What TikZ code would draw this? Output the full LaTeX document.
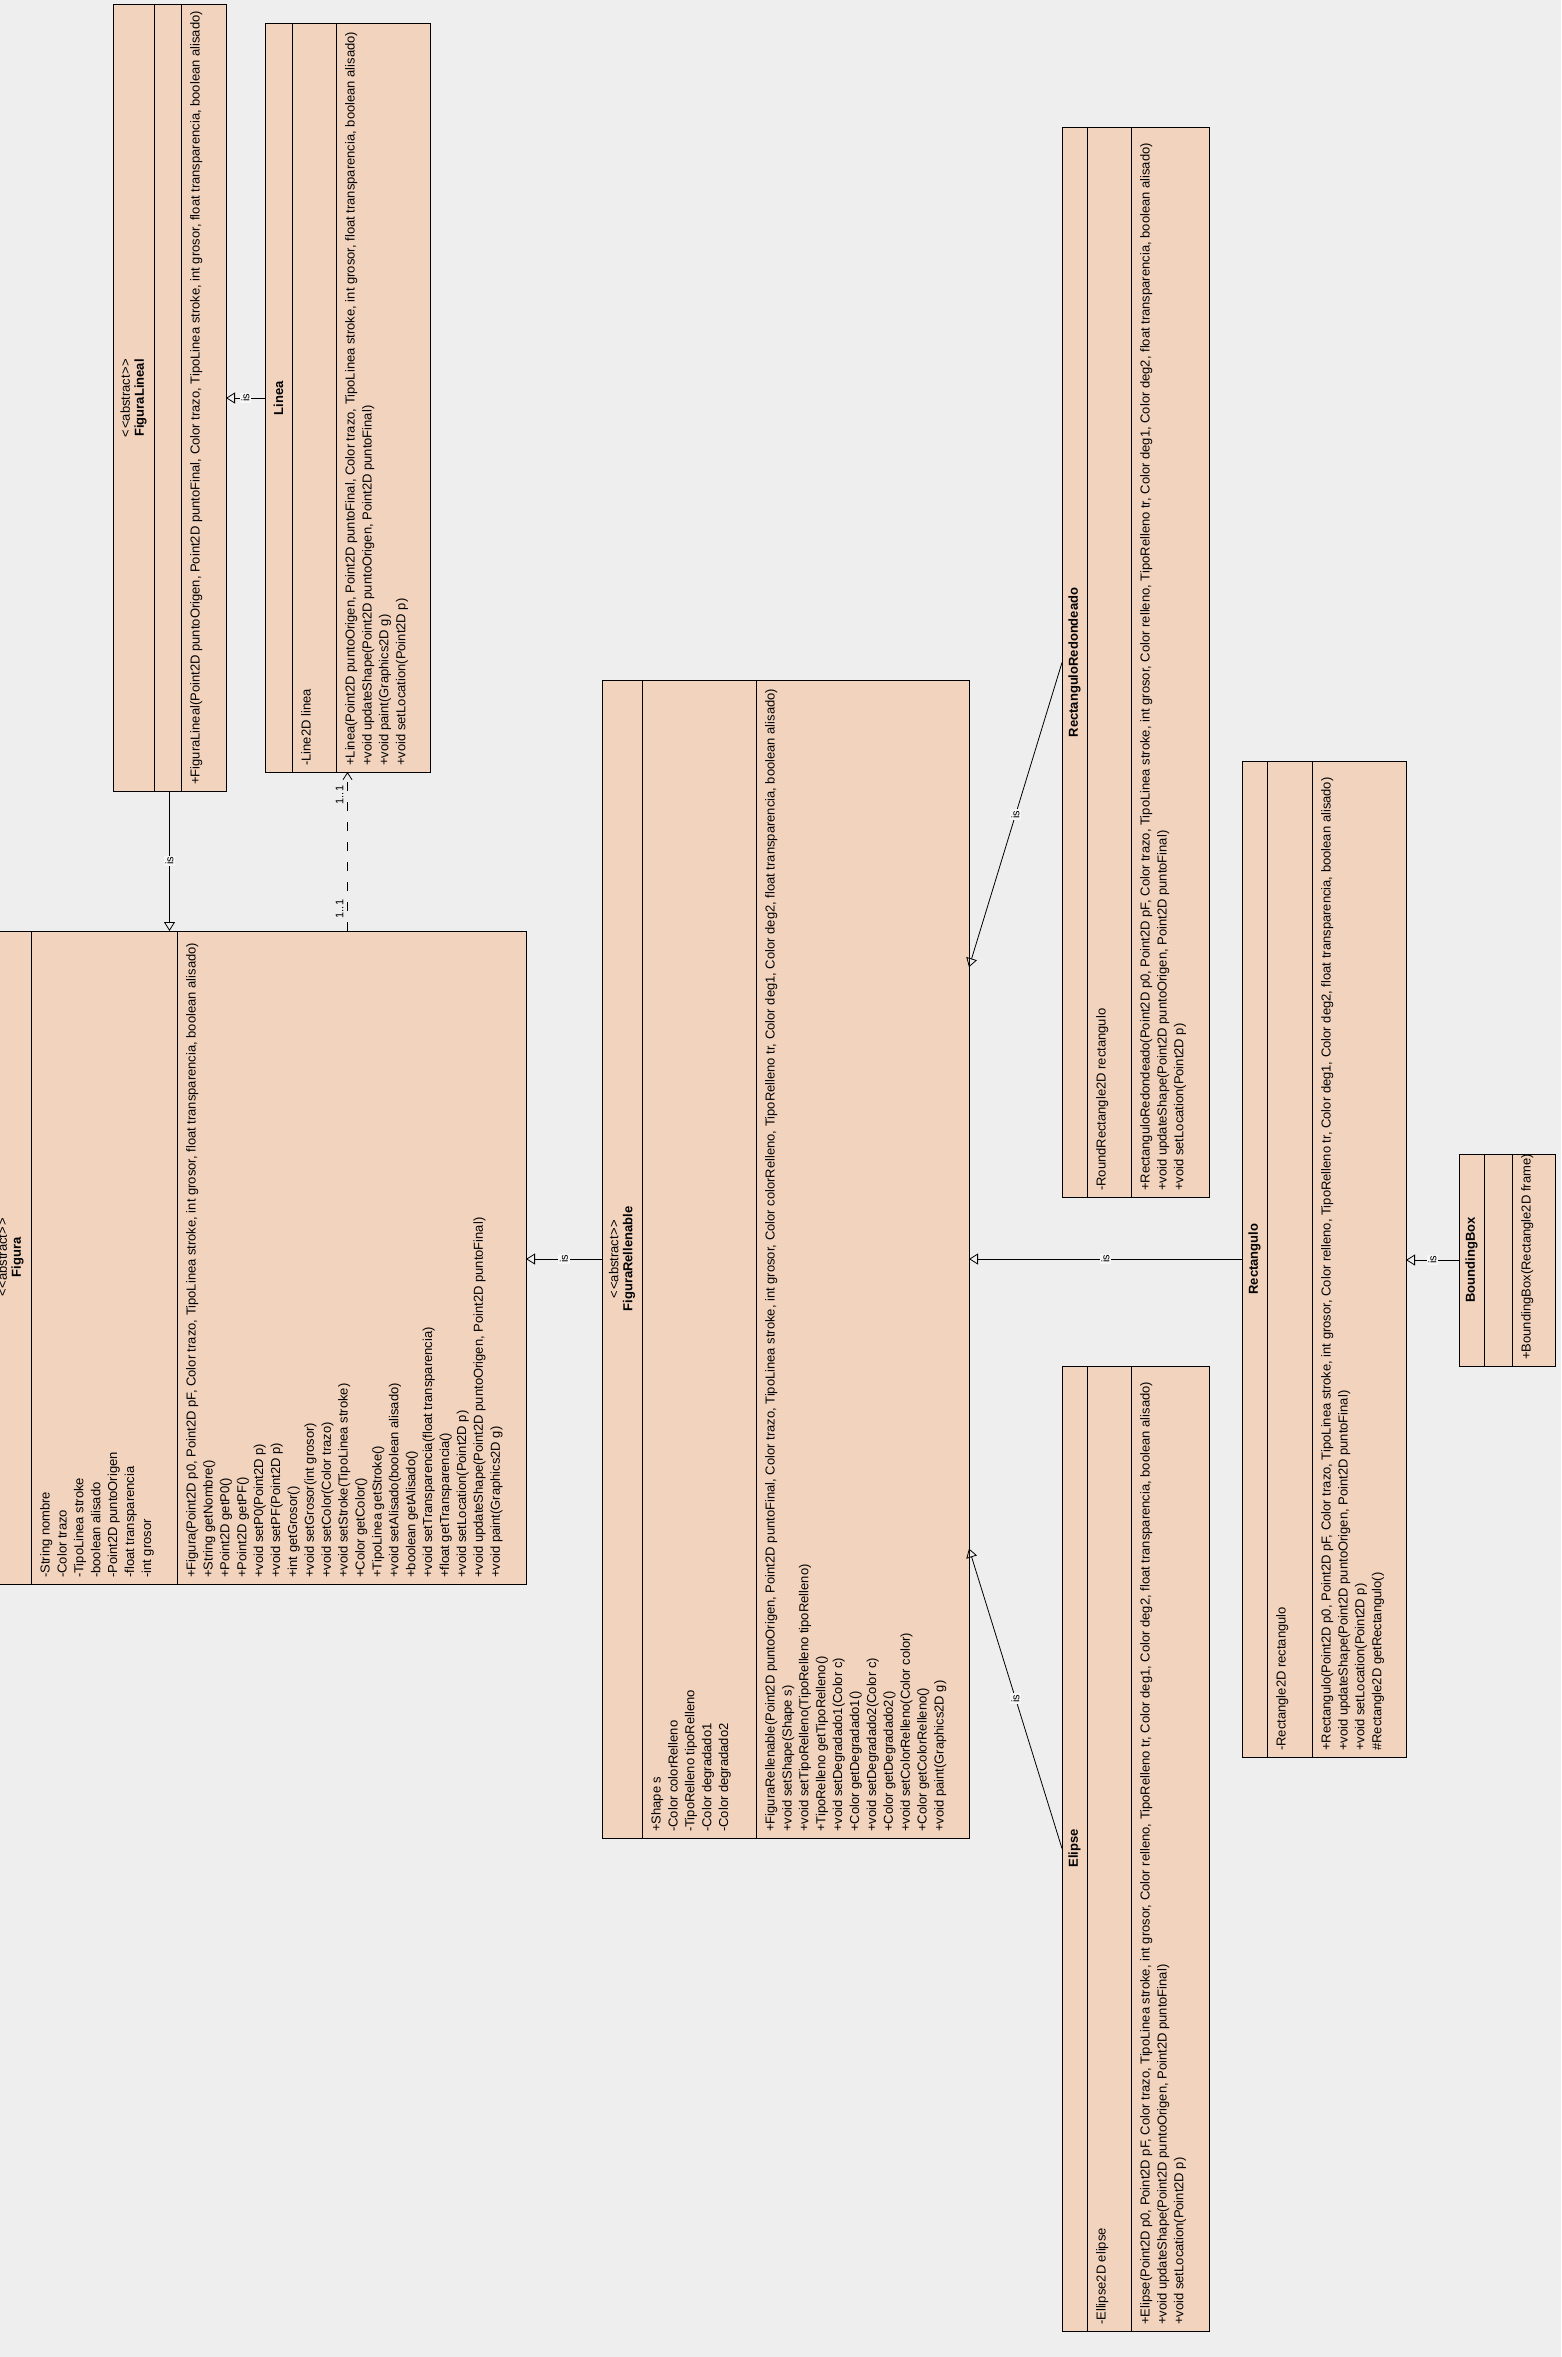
\documentclass[tikz,border=0pt]{standalone}
\usepackage{fontspec}
\setmainfont{Liberation Sans}
\usetikzlibrary{arrows.meta,calc}

\definecolor{canvas}{HTML}{EEEEEE}
\definecolor{classfill}{HTML}{F2D3BD}
\definecolor{tagfill}{HTML}{F7F7F7}

\tikzset{
  classbox/.style={draw=black, fill=classfill, line width=1pt, inner sep=0pt,
    outer sep=0pt, rectangle, anchor=north west},
  divider/.style={draw=black, line width=1pt},
  members/.style={rotate=90, anchor=north west, align=left, inner sep=0pt,
    font=\fontsize{13}{16.9}\selectfont},
  title/.style={rotate=90, align=center, inner sep=0pt,
    font=\fontsize{13}{14}\selectfont},
  inherit/.style={draw=black, line width=0.8pt,
    -{Triangle[open, length=9pt, width=11pt, line width=0.8pt]}},
  depend/.style={draw=black, line width=0.8pt, dash pattern=on 9pt off 11pt,
    -{Straight Barb[length=7pt, width=9pt, line width=0.8pt]}},
  tag/.style={rotate=90, fill=tagfill, inner sep=1.5pt,
    font=\fontsize{11}{12}\selectfont},
  mult/.style={rotate=90, anchor=south, inner sep=0pt,
    font=\fontsize{11}{12}\selectfont},
}

% stereotype text, kept as plain angle brackets
\newcommand{\abstractmark}{<\kern1pt<abstract>\kern1pt>}

% class frame: name, left, top, right, bottom, first divider, second divider
\newcommand{\umlclass}[7]{%
  \node[classbox, minimum width={(#4)-(#2)}, minimum height={(#5)-(#3)}] (#1) at (#2,#3) {};
  \draw[divider] (#6,#3) -- (#6,#5);
  \draw[divider] (#7,#3) -- (#7,#5);
}

\begin{document}
\begin{tikzpicture}[x=1pt, y=-1pt]
\useasboundingbox (0,0) rectangle (1561,2357);
\clip (0,0) rectangle (1561,2357);
\fill[canvas] (0,0) rectangle (1561,2357);

% ---------- FiguraLineal ----------
\umlclass{FiguraLineal}{113}{5}{226}{791}{154}{181}
\node[title] (FiguraLineal-t) at (133.5,398) {\abstractmark\\\textbf{FiguraLineal}};
\node[members] (FiguraLineal-o) at (190,785)
  {+FiguraLineal(Point2D puntoOrigen, Point2D puntoFinal, Color trazo, TipoLinea stroke, int grosor, float transparencia, boolean alisado)};

% ---------- Linea ----------
\umlclass{Linea}{265}{24}{430}{772}{292}{336}
\node[title] (Linea-t) at (278.5,398) {\textbf{Linea}};
\node[members] (Linea-a) at (301,766) {-Line2D linea};
\node[members] (Linea-o) at (345,766)
  {+Linea(Point2D puntoOrigen, Point2D puntoFinal, Color trazo, TipoLinea stroke, int grosor, float transparencia, boolean alisado)\\
   +void updateShape(Point2D puntoOrigen, Point2D puntoFinal)\\
   +void paint(Graphics2D g)\\
   +void setLocation(Point2D p)};

% ---------- Figura ----------
\umlclass{Figura}{-10}{931}{526}{1584}{31}{177}
\node[title] (Figura-t) at (10.5,1257.5) {\abstractmark\\\textbf{Figura}};
\node[members] (Figura-a) at (40,1578)
  {-String nombre\\
   -Color trazo\\
   -TipoLinea stroke\\
   -boolean alisado\\
   -Point2D puntoOrigen\\
   -float transparencia\\
   -int grosor};
\node[members] (Figura-o) at (186,1578)
  {+Figura(Point2D p0, Point2D pF, Color trazo, TipoLinea stroke, int grosor, float transparencia, boolean alisado)\\
   +String getNombre()\\
   +Point2D getP0()\\
   +Point2D getPF()\\
   +void setP0(Point2D p)\\
   +void setPF(Point2D p)\\
   +int getGrosor()\\
   +void setGrosor(int grosor)\\
   +void setColor(Color trazo)\\
   +void setStroke(TipoLinea stroke)\\
   +Color getColor()\\
   +TipoLinea getStroke()\\
   +void setAlisado(boolean alisado)\\
   +boolean getAlisado()\\
   +void setTransparencia(float transparencia)\\
   +float getTransparencia()\\
   +void setLocation(Point2D p)\\
   +void updateShape(Point2D puntoOrigen, Point2D puntoFinal)\\
   +void paint(Graphics2D g)};

% ---------- FiguraRellenable ----------
\umlclass{FiguraRellenable}{602}{680}{969}{1838}{642}{756}
\node[title] (FiguraRellenable-t) at (622,1259) {\abstractmark\\\textbf{FiguraRellenable}};
\node[members] (FiguraRellenable-a) at (651,1832)
  {+Shape s\\
   -Color colorRelleno\\
   -TipoRelleno tipoRelleno\\
   -Color degradado1\\
   -Color degradado2};
\node[members] (FiguraRellenable-o) at (765,1832)
  {+FiguraRellenable(Point2D puntoOrigen, Point2D puntoFinal, Color trazo, TipoLinea stroke, int grosor, Color colorRelleno, TipoRelleno tr, Color deg1, Color deg2, float transparencia, boolean alisado)\\
   +void setShape(Shape s)\\
   +void setTipoRelleno(TipoRelleno tipoRelleno)\\
   +TipoRelleno getTipoRelleno()\\
   +void setDegradado1(Color c)\\
   +Color getDegradado1()\\
   +void setDegradado2(Color c)\\
   +Color getDegradado2()\\
   +void setColorRelleno(Color color)\\
   +Color getColorRelleno()\\
   +void paint(Graphics2D g)};

% ---------- RectanguloRedondeado ----------
\umlclass{RectanguloRedondeado}{1062}{128}{1209}{1197}{1087}{1131}
\node[title] (RectanguloRedondeado-t) at (1074.5,662.5) {\textbf{RectanguloRedondeado}};
\node[members] (RectanguloRedondeado-a) at (1096,1191) {-RoundRectangle2D rectangulo};
\node[members] (RectanguloRedondeado-o) at (1140,1191)
  {+RectanguloRedondeado(Point2D p0, Point2D pF, Color trazo, TipoLinea stroke, int grosor, Color relleno, TipoRelleno tr, Color deg1, Color deg2, float transparencia, boolean alisado)\\
   +void updateShape(Point2D puntoOrigen, Point2D puntoFinal)\\
   +void setLocation(Point2D p)};

% ---------- Elipse ----------
\umlclass{Elipse}{1062}{1366}{1209}{2331}{1087}{1131}
\node[title] (Elipse-t) at (1074.5,1848.5) {\textbf{Elipse}};
\node[members] (Elipse-a) at (1096,2325) {-Ellipse2D elipse};
\node[members] (Elipse-o) at (1140,2325)
  {+Elipse(Point2D p0, Point2D pF, Color trazo, TipoLinea stroke, int grosor, Color relleno, TipoRelleno tr, Color deg1, Color deg2, float transparencia, boolean alisado)\\
   +void updateShape(Point2D puntoOrigen, Point2D puntoFinal)\\
   +void setLocation(Point2D p)};

% ---------- Rectangulo ----------
\umlclass{Rectangulo}{1242}{761}{1406}{1757}{1267}{1312}
\node[title] (Rectangulo-t) at (1254.5,1259) {\textbf{Rectangulo}};
\node[members] (Rectangulo-a) at (1276,1751) {-Rectangle2D rectangulo};
\node[members] (Rectangulo-o) at (1321,1751)
  {+Rectangulo(Point2D p0, Point2D pF, Color trazo, TipoLinea stroke, int grosor, Color relleno, TipoRelleno tr, Color deg1, Color deg2, float transparencia, boolean alisado)\\
   +void updateShape(Point2D puntoOrigen, Point2D puntoFinal)\\
   +void setLocation(Point2D p)\\
   \#Rectangle2D getRectangulo()};

% ---------- BoundingBox ----------
\umlclass{BoundingBox}{1459}{1154}{1555}{1366}{1484}{1512}
\node[title] (BoundingBox-t) at (1471.5,1260) {\textbf{BoundingBox}};
\node[members] (BoundingBox-o) at (1521,1360) {+BoundingBox(Rectangle2D frame)};

% ---------- relations ----------
\draw[inherit] (Linea.west) -- (FiguraLineal.east)
  node[midway, tag] (is-linea) {is};
\draw[inherit] (FiguraLineal.south) -- (FiguraLineal.south |- Figura.north)
  node[midway, tag] (is-lineal) {is};
\draw[inherit] (FiguraRellenable.west) -- (FiguraRellenable.west -| Figura.east)
  node[midway, tag] (is-rellenable) {is};
\draw[inherit] (RectanguloRedondeado.west)
  -- ($(FiguraRellenable.north east)!0.248!(FiguraRellenable.south east)$)
  node[midway, tag] (is-redondeado) {is};
\draw[inherit] (Elipse.west)
  -- ($(FiguraRellenable.north east)!0.750!(FiguraRellenable.south east)$)
  node[midway, tag] (is-elipse) {is};
\draw[inherit] (Rectangulo.west) -- (Rectangulo.west -| FiguraRellenable.east)
  node[midway, tag] (is-rectangulo) {is};
\draw[inherit] (BoundingBox.west) -- (BoundingBox.west -| Rectangulo.east)
  node[midway, tag] (is-bbox) {is};

% dependency from Figura to Linea with multiplicities
\draw[depend] (Linea.south |- Figura.north) -- (Linea.south);
\node[mult] (mult-linea) at ($(Linea.south)+(-4,23)$) {1..1};
\node[mult] (mult-figura) at ($(Linea.south |- Figura.north)+(-4,-22)$) {1..1};
\end{tikzpicture}
\end{document}
